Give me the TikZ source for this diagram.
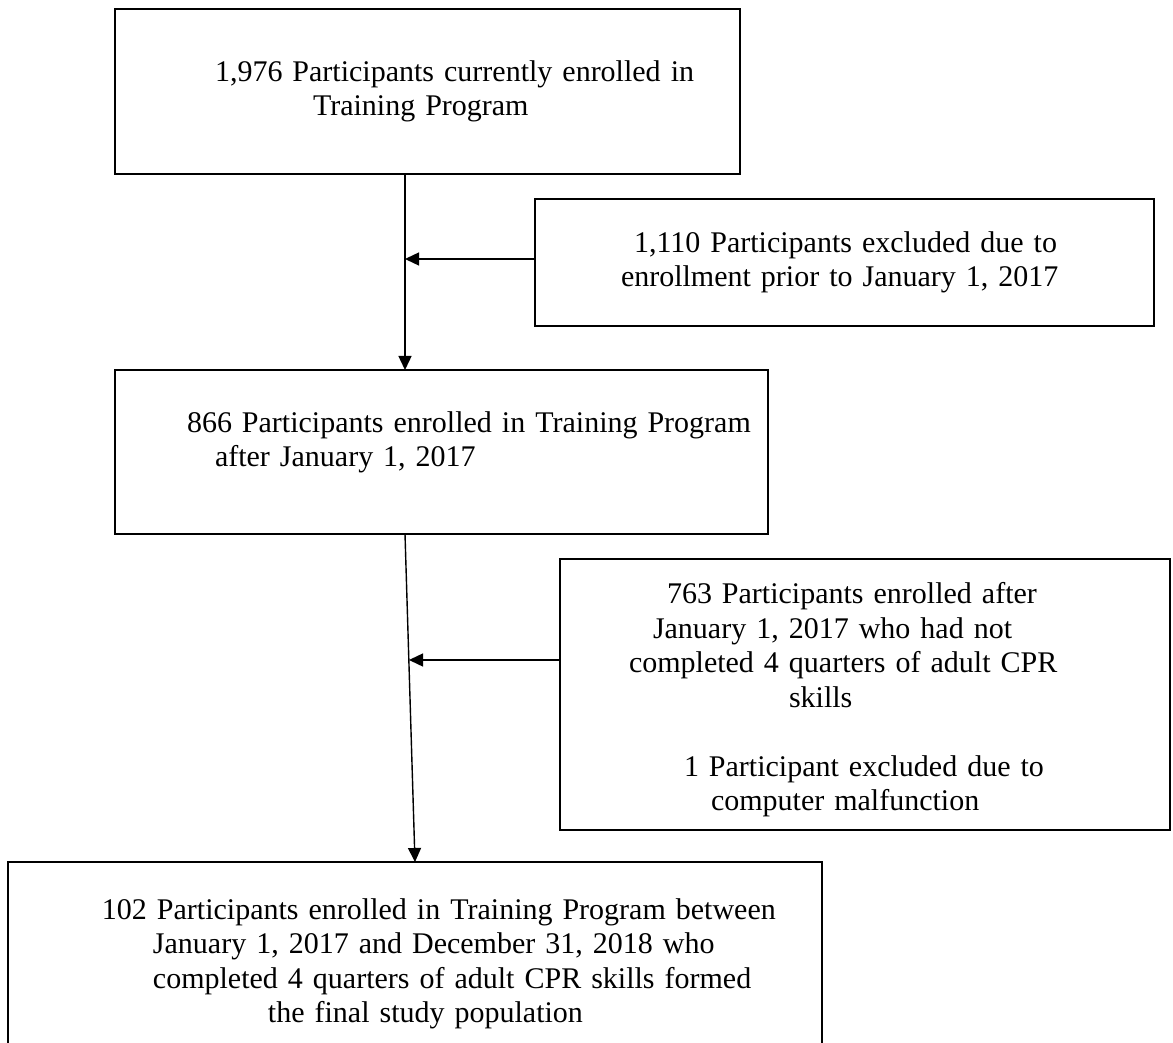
\documentclass[tikz,border=0pt]{standalone}
\usepackage{fontspec}
\setmainfont{Liberation Serif}
\usetikzlibrary{arrows.meta}
\begin{document}
\begin{tikzpicture}[x=0.5pt, y=-0.5pt,
	box/.style={draw, line width=0.7pt, inner sep=0pt, outer sep=0pt, align=left, font=\fontsize{15}{17.25}\selectfont},
	flow/.style={line width=0.7pt, -{Triangle[length=7pt, width=6.5pt]}}]
		\useasboundingbox (0,0) rectangle (1173,1043);
		\node[box, minimum width=312.5pt, minimum height=82.5pt, text width=312.5pt] at (427.5,91.5) (all) {\hspace*{50pt}1,976 Participants currently enrolled in\\\hspace*{99pt}Training Program};
		\node[box, minimum width=309.5pt, minimum height=63.5pt, text width=309.5pt] at (844.5,262.5) (early) {\hspace*{49.5pt}1,110 Participants excluded due to\\\hspace*{43pt}enrollment prior to January 1, 2017};
		\node[box, minimum width=326.5pt, minimum height=82pt, text width=326.5pt] at (441.5,452) (after) {\hspace*{36pt}866 Participants enrolled in Training Program\\\hspace*{50pt}after January 1, 2017\rule[-13pt]{0pt}{13pt}};
		\node[box, minimum width=305pt, minimum height=135.5pt, text width=305pt] at (865,694.5) (excl) {\rule{0pt}{16pt}\hspace*{53.5pt}763 Participants enrolled after\\\hspace*{46.5pt}January 1, 2017 who had not\\\hspace*{34.5pt}completed 4 quarters of adult CPR\\\hspace*{114.5pt}skills\\[17.25pt]\hspace*{62pt}1 Participant excluded due to\\\hspace*{75.5pt}computer malfunction};
		\node[box, minimum width=407pt, minimum height=102pt, text width=407pt] at (415,964) (final) {\hspace*{47pt}102 Participants enrolled in Training Program between\\\hspace*{72.5pt}January 1, 2017 and December 31, 2018 who\\\hspace*{72.5pt}completed 4 quarters of adult CPR skills formed\\\hspace*{130pt}the final study population};
		\coordinate (j1) at (405,259);
		\coordinate (j2) at (409,660);
		\draw[flow] (all.south -| j1) -- (after.north -| j1);
		\draw[flow] (early.west |- j1) -- (j1);
		\draw[flow] (after.south -| j1) -- (final.north);
		\draw[flow] (excl.west |- j2) -- (j2);
	\end{tikzpicture}
\end{document}
